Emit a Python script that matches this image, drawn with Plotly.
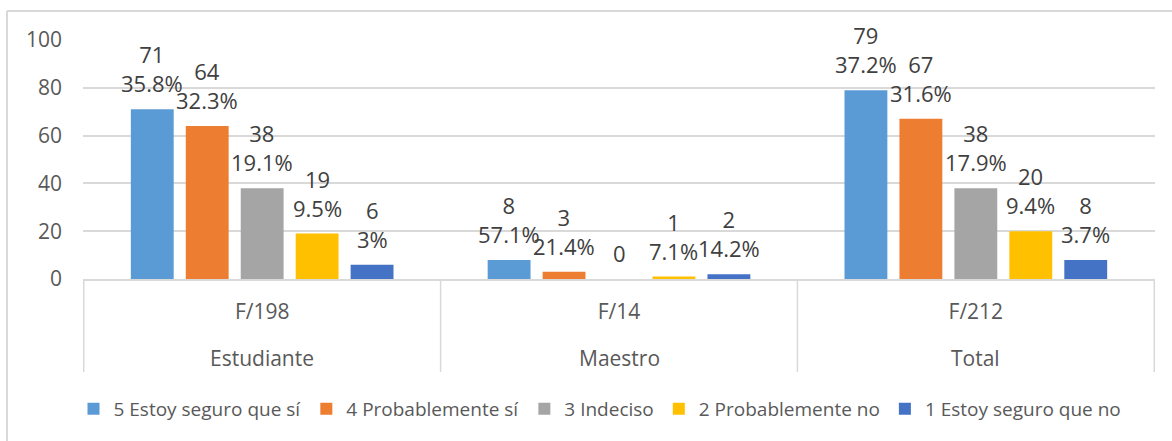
import plotly.graph_objects as go

# Response groups (outer label) and their totals (inner label)
groups = ["Estudiante", "Maestro", "Total"]
totals = ["F/198", "F/14", "F/212"]

series_names = [
    "5 Estoy seguro que sí",
    "4 Probablemente sí",
    "3 Indeciso",
    "2 Probablemente no",
    "1 Estoy seguro que no",
]
counts = [
    [71, 8, 79],
    [64, 3, 67],
    [38, 0, 38],
    [19, 1, 20],
    [6, 2, 8],
]
percents = [
    ["35.8%", "57.1%", "37.2%"],
    ["32.3%", "21.4%", "31.6%"],
    ["19.1%", "", "17.9%"],
    ["9.5%", "7.1%", "9.4%"],
    ["3%", "14.2%", "3.7%"],
]
colors = ["#5B9BD5", "#ED7D31", "#A5A5A5", "#FFC000", "#4472C4"]

FONT = "Open Sans"
TXT = "#595959"
BARGAP, GROUPGAP = 0.23, 0.22

fig = go.Figure()
for name, vals, col in zip(series_names, counts, colors):
    fig.add_trace(go.Bar(
        name=name,
        x=totals,
        y=vals,
        marker=dict(color=col, line=dict(width=0)),
        hoverinfo="skip",
    ))

# data labels (count and share) above each bar, centred on its slot in the group
n = len(series_names)
slot = (1 - BARGAP) / n
annotations = []
for k, (vals, pcts) in enumerate(zip(counts, percents)):
    off = -(1 - BARGAP) / 2 + slot * (k + 0.5)
    for i, (v, p) in enumerate(zip(vals, pcts)):
        annotations.append(dict(
            x=i + off, xref="x", y=v, yref="y",
            text=f"{v}<br>{p}" if p else f"{v}",
            showarrow=False, xanchor="center", yanchor="bottom", yshift=9,
            font=dict(family=FONT, size=22, color="#404040"),
        ))

# plot-area geometry in pixels
left_px, top_px, W, H = 83, 40, 1072, 239
def px_x(p):
    return (p - left_px) / W
def px_y(p):
    return (top_px + H - p) / H

grey = "#D9D9D9"
frame = dict(color=grey, width=2)
shapes = [
    dict(type="line", xref="paper", yref="paper", x0=px_x(7), x1=px_x(1175),
         y0=px_y(11), y1=px_y(11), line=frame),
    dict(type="line", xref="paper", yref="paper", x0=px_x(7), x1=px_x(7),
         y0=px_y(11), y1=px_y(445), line=frame),
]
# vertical dividers between the category blocks of the axis
for i in range(len(totals) + 1):
    shapes.append(dict(type="line", xref="x", yref="paper", x0=i - 0.5, x1=i - 0.5,
                       y0=0, y1=px_y(372), line=dict(color=grey, width=1.5)))

# outer level of the category axis
for i, g in enumerate(groups):
    annotations.append(dict(
        x=i, xref="x", y=px_y(358), yref="paper", text=g, showarrow=False,
        xanchor="center", yanchor="middle",
        font=dict(family=FONT, size=21, color=TXT)))

fig.update_layout(
    width=1172, height=441,
    margin=dict(l=left_px, r=1172 - left_px - W, t=top_px, b=441 - top_px - H,
                autoexpand=False),
    paper_bgcolor="white", plot_bgcolor="white",
    barmode="group", bargap=BARGAP, bargroupgap=GROUPGAP,
    font=dict(family=FONT, size=20, color=TXT),
    showlegend=True,
    legend=dict(orientation="h", x=px_x(600), xanchor="center", y=px_y(409), yanchor="middle",
                font=dict(family=FONT, size=19, color=TXT), bgcolor="rgba(0,0,0,0)",
                traceorder="normal", itemwidth=30),
    shapes=shapes,
    annotations=annotations,
    xaxis=dict(
        type="category",
        showline=True, linecolor=grey, linewidth=1.5,
        ticks="", showgrid=False,
        tickfont=dict(family=FONT, size=21, color=TXT),
        ticklabelstandoff=13,
    ),
    yaxis=dict(
        range=[0, 100], dtick=20, tick0=0,
        showgrid=True, gridcolor=grey, gridwidth=1.5,
        zeroline=False, showline=False, ticks="",
        tickfont=dict(family=FONT, size=21, color=TXT),
        ticklabelstandoff=20,
    ),
)

fig.write_html("out.html")
